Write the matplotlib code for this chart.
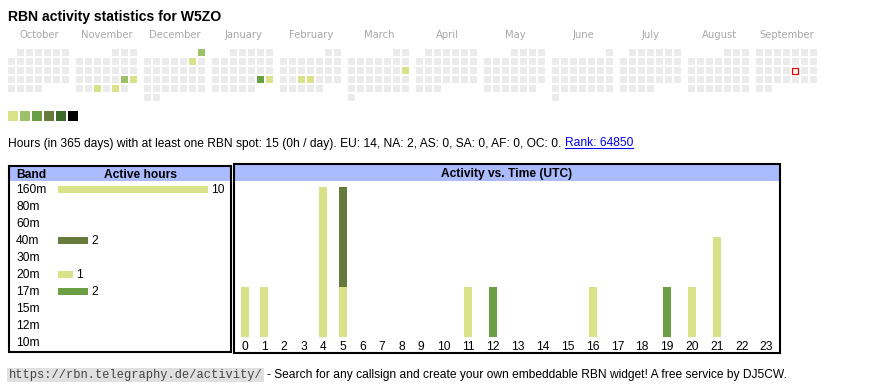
import calendar
import matplotlib
matplotlib.use("Agg")
import matplotlib.pyplot as plt
from matplotlib.patches import Rectangle

plt.rcParams['font.family'] = ['Liberation Sans', 'DejaVu Sans']

callsign = "W5ZO"
months = [(2024, 10), (2024, 11), (2024, 12), (2025, 1), (2025, 2), (2025, 3),
          (2025, 4), (2025, 5), (2025, 6), (2025, 7), (2025, 8), (2025, 9)]
active_days = [(2024, 11, 23), (2024, 11, 24), (2024, 11, 27), (2024, 11, 29),
               (2024, 12, 1), (2024, 12, 7), (2025, 1, 25), (2025, 1, 26),
               (2025, 2, 19), (2025, 2, 20), (2025, 3, 16)]
day_hours = [2, 1, 1, 1, 2, 1, 3, 1, 1, 1, 1]
today = (2025, 9, 19)
level_colors = ['#d9e289', '#9dc168', '#6a9f46', '#657a3b', '#3c6a2a', '#000000']

bands = ['160m', '80m', '60m', '40m', '30m', '20m', '17m', '15m', '12m', '10m']
band_hours = [10, 0, 0, 2, 0, 1, 2, 0, 0, 0]
band_colors = {'160m': '#d9e289', '80m': '#9dc168', '60m': '#3c6a2a', '40m': '#657a3b',
               '30m': '#9dc168', '20m': '#d9e289', '17m': '#6a9f46', '15m': '#3c6a2a',
               '12m': '#9dc168', '10m': '#6a9f46'}

hours = list(range(24))
hourly_160m = [1, 1, 0, 0, 3, 1, 0, 0, 0, 0, 0, 1, 0, 0, 0, 0, 1, 0, 0, 0, 1, 1, 0, 0]
hourly_20m  = [0, 0, 0, 0, 0, 0, 0, 0, 0, 0, 0, 0, 0, 0, 0, 0, 0, 0, 0, 0, 0, 1, 0, 0]
hourly_40m  = [0, 0, 0, 0, 0, 2, 0, 0, 0, 0, 0, 0, 0, 0, 0, 0, 0, 0, 0, 0, 0, 0, 0, 0]
hourly_17m  = [0, 0, 0, 0, 0, 0, 0, 0, 0, 0, 0, 0, 1, 0, 0, 0, 0, 0, 0, 1, 0, 0, 0, 0]

stats_text = "Hours (in 365 days) with at least one RBN spot: 15 (0h / day). EU: 14, NA: 2, AS: 0, SA: 0, AF: 0, OC: 0."
rank_text = "Rank: 64850"
url_text = "https://rbn.telegraphy.de/activity/"
footer_text = "- Search for any callsign and create your own embeddable RBN widget! A free service by DJ5CW."

W, H = 870, 390
fig = plt.figure(figsize=(W / 100, H / 100), dpi=100)
bg = fig.add_axes([0, 0, 1, 1])
bg.set_xlim(0, W)
bg.set_ylim(H, 0)
bg.axis('off')


def px_axes(x0, y0, x1, y1):
    ax = fig.add_axes([x0 / W, 1 - y1 / H, (x1 - x0) / W, (y1 - y0) / H])
    ax.patch.set_alpha(0)
    for s in ax.spines.values():
        s.set_visible(False)
    return ax


bg.text(8, 21, f"RBN activity statistics for {callsign}", fontsize=10.1,
        fontweight='bold', va='baseline')

# calendar, one block of 7 columns (Mon..Sun) per month
cal = px_axes(0, 25, W, 105)
cal.set_xlim(0, W)
cal.set_ylim(105, 25)
cal.set_xticks([])
cal.set_yticks([])
day_level = {d: h for d, h in zip(active_days, day_hours)}
for m, (yy, mm) in enumerate(months):
    first_wd, ndays = calendar.monthrange(yy, mm)
    x0 = 8 + m * 68
    cal.text(x0 + 31, 38.5, calendar.month_name[mm], fontsize=7.2, color='#a8a8a8',
             ha='center', va='baseline', family='DejaVu Sans')
    for d in range(1, ndays + 1):
        idx = first_wd + d - 1
        col, row = idx % 7, idx // 7
        h = day_level.get((yy, mm, d), 0)
        fc = level_colors[h - 1] if h else '#ebebeb'
        if (yy, mm, d) == today:
            cal.add_patch(Rectangle((x0 + col * 9 + 0.5, 49 + row * 9 + 0.5), 6, 6,
                                    facecolor='#f4f4f4', edgecolor='#e00000', lw=0.9))
        else:
            cal.add_patch(Rectangle((x0 + col * 9, 49 + row * 9), 7, 7,
                                    facecolor=fc, edgecolor='none'))

for i, c in enumerate(level_colors):
    bg.add_patch(Rectangle((8 + i * 12, 111), 10, 10, facecolor=c, edgecolor='none'))

# stats line
t = bg.text(8, 146.5, stats_text, fontsize=8.64, va='baseline')
fig.canvas.draw()
inv = bg.transData.inverted()
ext = t.get_window_extent()
x_end = inv.transform((ext.x1, ext.y0))[0]
r = bg.text(x_end + 3.3, 146.5, rank_text, fontsize=8.64, va='baseline', color='#0000ee')
fig.canvas.draw()
rext = r.get_window_extent()
rx0 = inv.transform((rext.x0, rext.y0))[0]
rx1 = inv.transform((rext.x1, rext.y0))[0]
bg.plot([rx0, rx1], [147.8, 147.8], color='#0000ee', lw=0.75)

# boxes
blue = '#aabbff'
bg.add_patch(Rectangle((10, 167), 221, 14, facecolor=blue, edgecolor='none'))
bg.add_patch(Rectangle((235, 165), 544, 16, facecolor=blue, edgecolor='none'))
bg.add_patch(Rectangle((9, 166), 222, 185.7, facecolor='none', edgecolor='black', lw=1.5))
bg.add_patch(Rectangle((234, 164), 546, 188.8, facecolor='none', edgecolor='black', lw=1.5))
bg.text(16, 177.5, "Band", fontsize=8.64, fontweight='bold', va='baseline')
bg.text(141, 177.5, "Active hours", fontsize=8.64, fontweight='bold', va='baseline', ha='center')
bg.text(506.5, 177.5, "Activity vs. Time (UTC)", fontsize=8.64, fontweight='bold',
        va='baseline', ha='center')

# band bars
bax = px_axes(58, 181, 231, 351)
bax.set_xlim(0, 173 / 15)
bax.set_ylim(len(bands) - 0.5, -0.5)
bax.set_xticks([])
bax.set_yticks([])
ypos = list(range(len(bands)))
bax.barh(ypos, band_hours, height=7 / 17, color=[band_colors[b] for b in bands])
for i, (b, v) in enumerate(zip(bands, band_hours)):
    bax.text(-42 / 15, i + 0.22, b, fontsize=8.64, va='baseline')
    if v:
        bax.text(v + 0.2, i + 0.22, str(v), fontsize=8.64, va='baseline')

# hourly bars (table columns: two-digit hours get wider cells)
widths = [19.6 if h < 10 else (544 - 196) / 14 for h in hours]
centers = []
acc = 0
for w in widths:
    centers.append(acc + w / 2)
    acc += w
hax = px_axes(235, 181, 779, 336.7)
hax.set_xlim(0, 544)
hax.set_ylim(0, (336.7 - 181) / 50)
hax.set_yticks([])
bottom = [0] * 24
for b, vals in [('160m', hourly_160m), ('20m', hourly_20m),
                ('40m', hourly_40m), ('17m', hourly_17m)]:
    hax.bar(centers, vals, width=8, bottom=bottom, color=band_colors[b])
    bottom = [a + v for a, v in zip(bottom, vals)]
hax.set_xticks(centers, [str(h) for h in hours], fontsize=8.64)
hax.tick_params(axis='x', length=0, pad=3.3)

# footer
u = bg.text(8.5, 378, url_text, fontsize=8.62, family='Liberation Mono', va='baseline',
            color='#444444', bbox=dict(facecolor='#e0e0e0', edgecolor='none', pad=1.0))
fig.canvas.draw()
uext = u.get_bbox_patch().get_window_extent()
ux1 = inv.transform((uext.x1, uext.y0))[0]
bg.text(ux1 + 3, 378, footer_text, fontsize=8.64, va='baseline')

fig.savefig('out.png', dpi=100)
